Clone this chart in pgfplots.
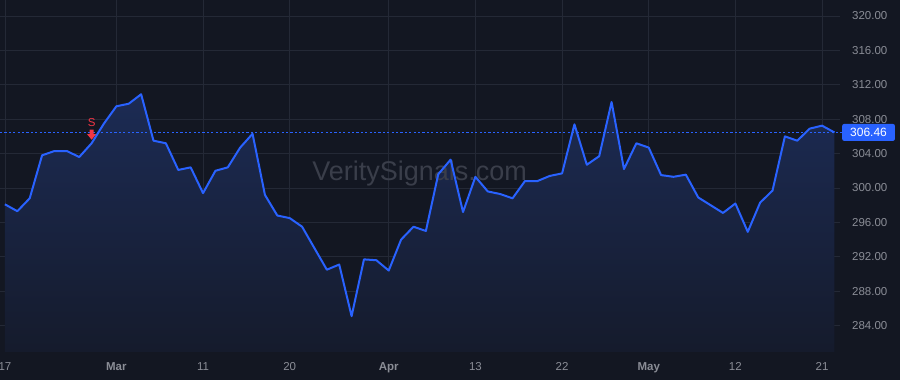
\documentclass[border=0pt]{standalone}
\usepackage{pgfplots}
\pgfplotsset{compat=1.18}
\usepackage{pgfplotstable}
\usepackage{fontspec}
\setmainfont{Liberation Sans}
\definecolor{bgc}{RGB}{19,23,34}
\definecolor{gridc}{RGB}{36,41,54}
\definecolor{linec}{RGB}{41,98,255}
\definecolor{filltop}{RGB}{28,43,84}
\definecolor{fillbot}{RGB}{21,27,44}
\definecolor{txtc}{RGB}{138,141,150}
\definecolor{wmc}{RGB}{58,62,74}
\definecolor{sred}{RGB}{242,54,69}
\pgfdeclareplotmark{sdown}{%
  \pgfpathmoveto{\pgfqpoint{-2pt}{5pt}}%
  \pgfpathlineto{\pgfqpoint{2pt}{5pt}}%
  \pgfpathlineto{\pgfqpoint{2pt}{0.5pt}}%
  \pgfpathlineto{\pgfqpoint{4.5pt}{0.5pt}}%
  \pgfpathlineto{\pgfqpoint{0pt}{-5pt}}%
  \pgfpathlineto{\pgfqpoint{-4.5pt}{0.5pt}}%
  \pgfpathlineto{\pgfqpoint{-2pt}{0.5pt}}%
  \pgfpathclose\pgfusepath{fill}}
\pgfplotstableread{
i v
0 298.1
1 297.3
2 298.8
3 303.8
4 304.3
5 304.3
6 303.6
7 305.2
8 307.5
9 309.5
10 309.8
11 310.9
12 305.5
13 305.2
14 302.1
15 302.4
16 299.4
17 302.0
18 302.4
19 304.7
20 306.3
21 299.2
22 296.8
23 296.5
24 295.5
25 293.0
26 290.5
27 291.1
28 285.1
29 291.7
30 291.6
31 290.4
32 294.0
33 295.5
34 295.0
35 301.6
36 303.3
37 297.2
38 301.3
39 299.6
40 299.3
41 298.8
42 300.8
43 300.8
44 301.4
45 301.7
46 307.4
47 302.7
48 303.7
49 310.0
50 302.2
51 305.2
52 304.7
53 301.5
54 301.3
55 301.55
56 298.9
57 298.0
58 297.1
59 298.2
60 294.9
61 298.3
62 299.7
63 306.0
64 305.5
65 306.9
66 307.25
67 306.46
}\pricedata
\begin{document}
\begin{tikzpicture}
\path[use as bounding box] (0,0) rectangle (900pt,380pt);
\fill[bgc] (0,0) rectangle (900pt,380pt);
\begin{axis}[
  at={(0pt,28pt)}, anchor=south west,
  scale only axis, width=840pt, height=352pt,
  xmin=-0.4, xmax=67.45, ymin=280.93, ymax=321.86,
  clip=false,
  axis line style={draw=none},
  major tick length=0pt,
  grid=major,
  major grid style={gridc, line width=0.8pt},
  xtick={0,9,16,23,31,38,45,52,59,66},
  xticklabels={17,\textbf{Mar},11,20,\textbf{Apr},13,22,\textbf{May},12,21},
  ytick={284,288,...,320},
  yticklabel pos=right,
  yticklabel style={anchor=west, xshift=12pt, inner sep=0pt, text=txtc, font=\fontsize{11.5}{13}\selectfont},
  xticklabel style={anchor=base, yshift=-18.7pt, inner sep=0pt, text=txtc, font=\fontsize{11.5}{13}\selectfont},
  /pgf/number format/.cd, fixed, fixed zerofill, precision=2, 1000 sep={}, assume math mode=true,
]
\addplot[draw=none, top color=filltop, bottom color=fillbot] table[x=i,y=v]{\pricedata} -- (axis cs:67,280.93) -- (axis cs:0,280.93) -- cycle;
\node[text=wmc, font=\fontsize{27}{31}\selectfont] at (axis cs:33.5,301.7) {VeritySignals.com};
\addplot[linec, line width=0.8pt, dash pattern=on 2.2pt off 2.2pt] coordinates {(-0.4,306.46) (67.8,306.46)};
\addplot[linec, line width=2pt, line join=round] table[x=i,y=v]{\pricedata};
\addplot[only marks, mark=sdown, sred, mark options={fill=sred, draw=none}] coordinates {(7,306.2)};
\node[text=sred, font=\fontsize{11.5}{13}\selectfont] at (axis cs:7,307.6) {S};
\node[fill=linec, text=white, anchor=west, inner xsep=8pt, inner ysep=0pt, minimum height=17pt, rounded corners=2pt, font=\fontsize{12}{13}\selectfont] at (axis cs:67.45,306.46) [xshift=2pt] {306.46};
\end{axis}
\end{tikzpicture}
\end{document}
